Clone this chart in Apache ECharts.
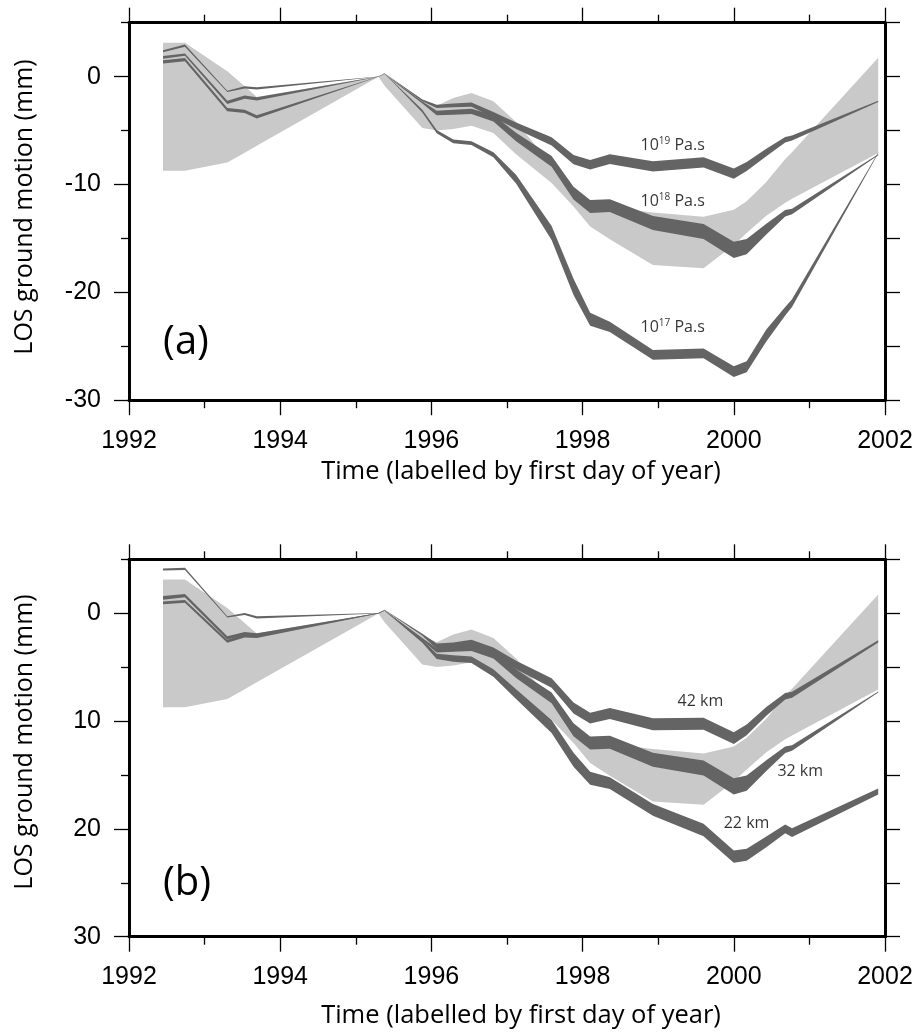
<!DOCTYPE html>
<html><head><meta charset="utf-8">
<script src="https://cdn.jsdelivr.net/npm/echarts@6/dist/echarts.min.js"></script>
<style>html,body{margin:0;padding:0;background:#fff}#c{width:924px;height:1036px}</style>
</head><body><div id="c"></div>
<script>
// ---- epochs (decimal years) ----
const epochs = [1992.45, 1992.74, 1993.30, 1993.53, 1993.69, 1995.30, 1995.38, 1995.88, 1996.07, 1996.29, 1996.53, 1996.82, 1997.12, 1997.59, 1997.88, 1998.10, 1998.36, 1998.93, 1999.60, 2000.00, 2000.17, 2000.43, 2000.68, 2000.77, 2001.91];

// ---- panel (a): observed envelope (mm) ----
const obsHiA = [3.13, 3.13, 0.49, -0.90, -1.88, 0.02, 0.20, -2.10, -2.70, -1.98, -1.51, -2.29, -4.20, -8.20, -11.00, -12.10, -12.10, -12.60, -13.00, -12.35, -11.55, -9.78, -7.64, -7.00, 1.74];
const obsLoA = [-8.73, -8.73, -7.96, -7.05, -6.40, -0.02, -0.84, -4.76, -4.99, -4.85, -4.55, -5.23, -7.20, -9.87, -12.04, -13.90, -15.07, -17.46, -17.76, -15.60, -14.50, -12.90, -11.70, -11.33, -7.08];

// ---- panel (a): viscosity models, centre and spread (mm) ----
const visc19 = [2.35, 2.88, -1.36, -0.99, -1.09, 0, 0.30, -2.20, -2.76, -2.67, -2.60, -3.53, -4.55, -6.00, -7.70, -8.17, -7.65, -8.33, -7.96, -9.00, -8.33, -7.04, -5.85, -5.69, -2.29];
const spread19 = [0.2, 0.2, 0.12, 0.2, 0.2, 0.04, 0.04, 0.15, 0.3, 0.35, 0.4, 0.5, 0.6, 0.75, 0.85, 0.9, 0.9, 0.95, 0.95, 0.95, 0.85, 0.7, 0.5, 0.45, 0.12];
const visc18 = [1.79, 2.04, -2.38, -1.89, -2.07, 0, 0.25, -2.40, -3.37, -3.30, -3.22, -3.85, -5.60, -7.86, -10.80, -12.04, -11.96, -13.58, -14.36, -16.06, -15.76, -14.14, -12.66, -12.50, -7.24];
const spread18 = [0.25, 0.2, 0.3, 0.3, 0.3, 0.04, 0.04, 0.2, 0.4, 0.45, 0.5, 0.6, 0.8, 1.0, 1.2, 1.2, 1.2, 1.3, 1.4, 1.5, 1.4, 1.0, 0.6, 0.5, 0.1];
const visc17 = [1.36, 1.58, -3.06, -3.22, -3.74, 0, 0.30, -3.20, -5.10, -6.00, -6.16, -7.24, -9.50, -14.50, -19.50, -22.50, -23.20, -25.80, -25.65, -27.36, -26.90, -24.00, -21.75, -21.00, -7.08];
const spread17 = [0.3, 0.3, 0.3, 0.3, 0.3, 0.04, 0.04, 0.25, 0.3, 0.35, 0.35, 0.45, 0.8, 1.3, 1.5, 1.2, 0.95, 0.9, 0.9, 1.0, 1.0, 1.1, 0.8, 0.7, 0.08];

// ---- panel (b): observed envelope (mm, positive down) ----
const obsHiB = [-3.13, -3.13, -0.49, 0.90, 1.88, -0.02, -0.20, 2.10, 2.70, 1.98, 1.51, 2.29, 4.20, 8.20, 11.00, 12.10, 12.10, 12.60, 13.00, 12.35, 11.55, 9.78, 7.64, 7.00, -1.74];
const obsLoB = [8.73, 8.73, 7.96, 7.05, 6.40, 0.02, 0.84, 4.76, 4.99, 4.85, 4.55, 5.23, 7.20, 9.87, 12.04, 13.90, 15.07, 17.46, 17.76, 15.60, 14.50, 12.90, 11.70, 11.33, 7.08];

// ---- panel (b): depth models ----
const depth42 = [-4.05, -4.11, 0.34, 0.07, 0.38, 0, -0.30, 2.00, 3.05, 3.00, 2.76, 3.54, 4.80, 6.47, 8.79, 9.72, 9.30, 10.30, 10.25, 11.58, 10.81, 9.10, 7.71, 7.56, 2.61];
const spread42 = [0.2, 0.2, 0.12, 0.2, 0.2, 0.04, 0.04, 0.2, 0.5, 0.55, 0.6, 0.7, 0.8, 0.9, 1.0, 1.0, 1.0, 1.1, 1.1, 1.1, 1.0, 0.8, 0.6, 0.55, 0.2];
const depth32 = [-1.42, -1.63, 2.29, 1.89, 2.01, 0, -0.25, 2.40, 3.45, 3.35, 3.25, 3.90, 5.60, 7.86, 10.80, 12.04, 11.96, 13.58, 14.36, 16.06, 15.76, 14.14, 12.66, 12.50, 7.30];
const spread32 = [0.35, 0.3, 0.3, 0.3, 0.3, 0.04, 0.04, 0.2, 0.4, 0.45, 0.5, 0.6, 0.8, 1.0, 1.2, 1.2, 1.2, 1.3, 1.4, 1.5, 1.4, 1.0, 0.6, 0.5, 0.1];
const depth22 = [-0.96, -1.10, 2.60, 2.10, 2.15, 0, -0.25, 2.60, 4.00, 4.20, 4.31, 5.55, 7.50, 10.50, 13.60, 15.30, 15.76, 18.24, 20.10, 22.57, 22.40, 21.20, 20.00, 20.35, 16.54];
const spread22 = [0.25, 0.25, 0.3, 0.3, 0.3, 0.04, 0.04, 0.3, 0.5, 0.6, 0.6, 0.7, 0.9, 1.2, 1.3, 1.2, 1.1, 1.1, 1.15, 1.15, 1.1, 1.0, 0.8, 0.8, 0.55];

// ---- axes ----
const yMajorA = [-30, -20, -10, 0];
const yMinorA = [-25, -15, -5, 5];
const yMajorB = [0, 10, 20, 30];
const yMinorB = [-5, 5, 15, 25];

// ---- annotations ----
const viscExp = ['19', '18', '17'];
const viscLabelT = [1998.76, 1998.76, 1998.76];
const viscLabelV = [-6.4, -11.6, -23.3];
const depthText = ['42 km', '32 km', '22 km'];
const depthLabelT = [1999.25, 2000.57, 1999.86];
const depthLabelV = [8.18, 14.68, 19.47];

const LIGHT = '#c9c9c9', DARK = '#646464';
const TICKFONT = 'Liberation Sans', TEXTFONT = 'Open Sans';

function band(xi, yi, lo, hi, color, z) {
  return {
    type: 'custom', xAxisIndex: xi, yAxisIndex: yi, z: z, silent: true,
    data: epochs.map((t, i) => [t, lo[i], hi[i]]),
    encode: { x: 0, y: [1, 2] },
    renderItem: function (params, api) {
      if (params.dataIndex !== 0) return null;
      const pts = [];
      for (let i = 0; i < epochs.length; i++) pts.push(api.coord([epochs[i], hi[i]]));
      for (let i = epochs.length - 1; i >= 0; i--) pts.push(api.coord([epochs[i], lo[i]]));
      return { type: 'polygon', shape: { points: pts }, style: { fill: color } };
    }
  };
}
function model(xi, yi, c, w, z) {
  return band(xi, yi, c.map((v, i) => v - w[i] / 2), c.map((v, i) => v + w[i] / 2), DARK, z);
}

const axLine = { show: true, onZero: false, lineStyle: { color: '#000', width: 3 } };
const tickStyle = { color: '#000', width: 1.3 };

function xAx(grid, pos, labels) {
  return {
    type: 'value', gridIndex: grid, position: pos, min: 1992, max: 2002, interval: 2,
    axisLine: axLine,
    axisTick: { show: true, length: 15, lineStyle: tickStyle },
    minorTick: { show: true, splitNumber: 2, length: 8, lineStyle: tickStyle },
    axisLabel: { show: labels, fontSize: 25, fontFamily: TICKFONT, color: '#000', margin: 28, formatter: v => String(v) },
    splitLine: { show: false }, minorSplitLine: { show: false }
  };
}
function yAxMain(grid, min, max, major, inverse) {
  return {
    type: 'value', gridIndex: grid, position: 'left', min: min, max: max, inverse: inverse,
    axisLine: axLine,
    axisTick: { show: true, length: 15, customValues: major, lineStyle: tickStyle },
    axisLabel: { show: true, customValues: major, fontSize: 25, fontFamily: TICKFONT, color: '#000', margin: 28 },
    splitLine: { show: false }
  };
}
function yAxMinor(grid, min, max, minor, inverse) {
  return {
    type: 'value', gridIndex: grid, position: 'left', min: min, max: max, inverse: inverse,
    axisLine: { show: false },
    axisTick: { show: true, length: 8, customValues: minor, lineStyle: tickStyle },
    axisLabel: { show: false }, splitLine: { show: false }
  };
}
function yAxRight(grid, min, max, inverse) {
  return {
    type: 'value', gridIndex: grid, position: 'right', min: min, max: max, interval: 5, inverse: inverse,
    axisLine: axLine,
    axisTick: { show: true, length: 15, lineStyle: tickStyle },
    axisLabel: { show: false }, splitLine: { show: false }
  };
}

function labelSeries(xi, yi, pts, texts) {
  return {
    type: 'scatter', xAxisIndex: xi, yAxisIndex: yi, symbol: 'circle', symbolSize: 1, silent: true, z: 10,
    data: pts.map((p, i) => ({ value: p, name: texts[i] })),
    itemStyle: { color: 'rgba(0,0,0,0)' },
    label: {
      show: true, position: 'right', distance: 0,
      formatter: p => p.name,
      fontSize: 16, fontFamily: TEXTFONT, color: '#000',
      rich: {
        b: { fontSize: 16, fontFamily: TEXTFONT, color: '#000', lineHeight: 20 },
        s: { fontSize: 10, fontFamily: TEXTFONT, color: '#000', lineHeight: 10, verticalAlign: 'top' }
      }
    }
  };
}

const chart = echarts.init(document.getElementById('c'), null, { renderer: 'canvas' });
const titleStyle = (txt, size) => ({ text: txt, fontSize: size, fontFamily: TEXTFONT, fill: '#000', align: 'center', verticalAlign: 'middle' });
chart.setOption({
  animation: false,
  backgroundColor: '#fff',
  grid: [
    { left: 129, top: 22.7, width: 756, height: 377.5 },
    { left: 129, top: 559.3, width: 756, height: 377.4 }
  ],
  xAxis: [xAx(0, 'bottom', true), xAx(0, 'top', false), xAx(1, 'bottom', true), xAx(1, 'top', false)],
  yAxis: [
    yAxMain(0, -30, 5, yMajorA, false), yAxMinor(0, -30, 5, yMinorA, false), yAxRight(0, -30, 5, false),
    yAxMain(1, -5, 30, yMajorB, true), yAxMinor(1, -5, 30, yMinorB, true), yAxRight(1, -5, 30, true)
  ],
  series: [
    band(0, 0, obsLoA, obsHiA, LIGHT, 1),
    model(0, 0, visc19, spread19, 2),
    model(0, 0, visc18, spread18, 2),
    model(0, 0, visc17, spread17, 2),
    labelSeries(0, 0, viscLabelT.map((t, i) => [t, viscLabelV[i]]), viscExp.map(e => '{b|10}{s|' + e + '}{b| Pa.s}')),
    band(2, 3, obsLoB, obsHiB, LIGHT, 1),
    model(2, 3, depth42, spread42, 2),
    model(2, 3, depth32, spread32, 2),
    model(2, 3, depth22, spread22, 2),
    labelSeries(2, 3, depthLabelT.map((t, i) => [t, depthLabelV[i]]), depthText)
  ],
  graphic: [
    { type: 'text', x: 521, y: 472, style: titleStyle('Time (labelled by first day of year)', 25.5) },
    { type: 'text', x: 521, y: 1016, style: titleStyle('Time (labelled by first day of year)', 25.5) },
    { type: 'text', x: 25, y: 207, rotation: Math.PI / 2, style: titleStyle('LOS ground motion (mm)', 25) },
    { type: 'text', x: 25, y: 742, rotation: Math.PI / 2, style: titleStyle('LOS ground motion (mm)', 25) },
    { type: 'text', x: 186, y: 343, style: titleStyle('(a)', 40) },
    { type: 'text', x: 187, y: 884, style: titleStyle('(b)', 40) }
  ]
});
</script></body></html>
